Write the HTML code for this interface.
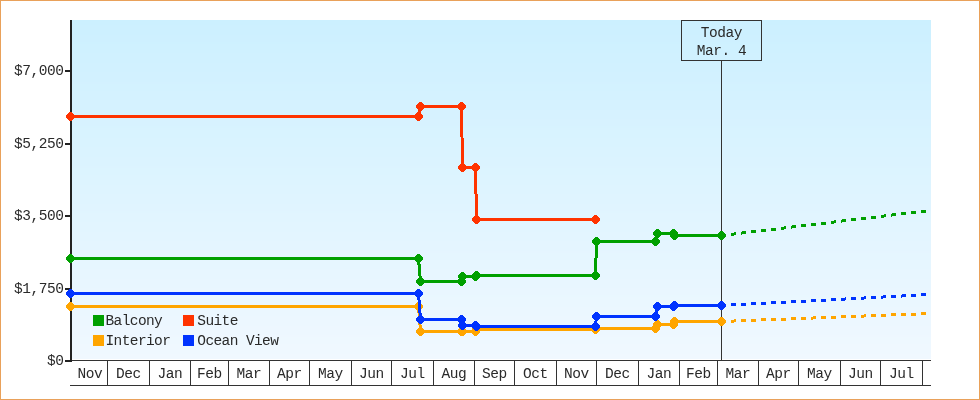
<!DOCTYPE html>
<html><head><meta charset="utf-8"><style>
html,body{margin:0;padding:0;background:#fff;}
body{width:980px;height:400px;overflow:hidden;position:relative;}
#frame{position:absolute;left:0;top:0;width:980px;height:400px;box-sizing:border-box;border:1px solid #e9a15a;}
svg{position:absolute;left:0;top:0;}
text{filter:grayscale(1);}
text{font-family:"Liberation Mono", monospace;font-size:14.5px;fill:#2a2a2a;letter-spacing:-0.45px;}
</style></head><body><div id="frame"></div>
<svg width="980" height="400" viewBox="0 0 980 400">

<g shape-rendering="crispEdges">
<rect x="72" y="20" width="859" height="1" fill="#ccf0ff"/>
<rect x="72" y="21" width="859" height="1" fill="#ccf0ff"/>
<rect x="72" y="22" width="859" height="1" fill="#ccf0ff"/>
<rect x="72" y="23" width="859" height="1" fill="#ccf0ff"/>
<rect x="72" y="24" width="859" height="1" fill="#ccf0ff"/>
<rect x="72" y="25" width="859" height="1" fill="#cdf0ff"/>
<rect x="72" y="26" width="859" height="1" fill="#cdf0ff"/>
<rect x="72" y="27" width="859" height="1" fill="#cdf0ff"/>
<rect x="72" y="28" width="859" height="1" fill="#cdf0ff"/>
<rect x="72" y="29" width="859" height="1" fill="#cdf0ff"/>
<rect x="72" y="30" width="859" height="1" fill="#cdf0ff"/>
<rect x="72" y="31" width="859" height="1" fill="#cdf0ff"/>
<rect x="72" y="32" width="859" height="1" fill="#cdf0ff"/>
<rect x="72" y="33" width="859" height="1" fill="#cdf0ff"/>
<rect x="72" y="34" width="859" height="1" fill="#cdf0ff"/>
<rect x="72" y="35" width="859" height="1" fill="#cef0ff"/>
<rect x="72" y="36" width="859" height="1" fill="#cef0ff"/>
<rect x="72" y="37" width="859" height="1" fill="#cef0ff"/>
<rect x="72" y="38" width="859" height="1" fill="#cef0ff"/>
<rect x="72" y="39" width="859" height="1" fill="#cef0ff"/>
<rect x="72" y="40" width="859" height="1" fill="#cef0ff"/>
<rect x="72" y="41" width="859" height="1" fill="#cef0ff"/>
<rect x="72" y="42" width="859" height="1" fill="#cef1ff"/>
<rect x="72" y="43" width="859" height="1" fill="#cef1ff"/>
<rect x="72" y="44" width="859" height="1" fill="#cff1ff"/>
<rect x="72" y="45" width="859" height="1" fill="#cff1ff"/>
<rect x="72" y="46" width="859" height="1" fill="#cff1ff"/>
<rect x="72" y="47" width="859" height="1" fill="#cff1ff"/>
<rect x="72" y="48" width="859" height="1" fill="#cff1ff"/>
<rect x="72" y="49" width="859" height="1" fill="#cff1ff"/>
<rect x="72" y="50" width="859" height="1" fill="#cff1ff"/>
<rect x="72" y="51" width="859" height="1" fill="#cff1ff"/>
<rect x="72" y="52" width="859" height="1" fill="#cff1ff"/>
<rect x="72" y="53" width="859" height="1" fill="#d0f1ff"/>
<rect x="72" y="54" width="859" height="1" fill="#d0f1ff"/>
<rect x="72" y="55" width="859" height="1" fill="#d0f1ff"/>
<rect x="72" y="56" width="859" height="1" fill="#d0f1ff"/>
<rect x="72" y="57" width="859" height="1" fill="#d0f1ff"/>
<rect x="72" y="58" width="859" height="1" fill="#d0f1ff"/>
<rect x="72" y="59" width="859" height="1" fill="#d0f1ff"/>
<rect x="72" y="60" width="859" height="1" fill="#d0f1ff"/>
<rect x="72" y="61" width="859" height="1" fill="#d0f1ff"/>
<rect x="72" y="62" width="859" height="1" fill="#d0f1ff"/>
<rect x="72" y="63" width="859" height="1" fill="#d1f1ff"/>
<rect x="72" y="64" width="859" height="1" fill="#d1f1ff"/>
<rect x="72" y="65" width="859" height="1" fill="#d1f1ff"/>
<rect x="72" y="66" width="859" height="1" fill="#d1f1ff"/>
<rect x="72" y="67" width="859" height="1" fill="#d1f1ff"/>
<rect x="72" y="68" width="859" height="1" fill="#d1f1ff"/>
<rect x="72" y="69" width="859" height="1" fill="#d1f1ff"/>
<rect x="72" y="70" width="859" height="1" fill="#d1f1ff"/>
<rect x="72" y="71" width="859" height="1" fill="#d1f1ff"/>
<rect x="72" y="72" width="859" height="1" fill="#d2f1ff"/>
<rect x="72" y="73" width="859" height="1" fill="#d2f1ff"/>
<rect x="72" y="74" width="859" height="1" fill="#d2f1ff"/>
<rect x="72" y="75" width="859" height="1" fill="#d2f1ff"/>
<rect x="72" y="76" width="859" height="1" fill="#d2f1ff"/>
<rect x="72" y="77" width="859" height="1" fill="#d2f1ff"/>
<rect x="72" y="78" width="859" height="1" fill="#d2f1ff"/>
<rect x="72" y="79" width="859" height="1" fill="#d2f1ff"/>
<rect x="72" y="80" width="859" height="1" fill="#d2f1ff"/>
<rect x="72" y="81" width="859" height="1" fill="#d2f1ff"/>
<rect x="72" y="82" width="859" height="1" fill="#d3f1ff"/>
<rect x="72" y="83" width="859" height="1" fill="#d3f1ff"/>
<rect x="72" y="84" width="859" height="1" fill="#d3f2ff"/>
<rect x="72" y="85" width="859" height="1" fill="#d3f2ff"/>
<rect x="72" y="86" width="859" height="1" fill="#d3f2ff"/>
<rect x="72" y="87" width="859" height="1" fill="#d3f2ff"/>
<rect x="72" y="88" width="859" height="1" fill="#d3f2ff"/>
<rect x="72" y="89" width="859" height="1" fill="#d3f2ff"/>
<rect x="72" y="90" width="859" height="1" fill="#d3f2ff"/>
<rect x="72" y="91" width="859" height="1" fill="#d4f2ff"/>
<rect x="72" y="92" width="859" height="1" fill="#d4f2ff"/>
<rect x="72" y="93" width="859" height="1" fill="#d4f2ff"/>
<rect x="72" y="94" width="859" height="1" fill="#d4f2ff"/>
<rect x="72" y="95" width="859" height="1" fill="#d4f2ff"/>
<rect x="72" y="96" width="859" height="1" fill="#d4f2ff"/>
<rect x="72" y="97" width="859" height="1" fill="#d4f2ff"/>
<rect x="72" y="98" width="859" height="1" fill="#d4f2ff"/>
<rect x="72" y="99" width="859" height="1" fill="#d4f2ff"/>
<rect x="72" y="100" width="859" height="1" fill="#d5f2ff"/>
<rect x="72" y="101" width="859" height="1" fill="#d5f2ff"/>
<rect x="72" y="102" width="859" height="1" fill="#d5f2ff"/>
<rect x="72" y="103" width="859" height="1" fill="#d5f2ff"/>
<rect x="72" y="104" width="859" height="1" fill="#d5f2ff"/>
<rect x="72" y="105" width="859" height="1" fill="#d5f2ff"/>
<rect x="72" y="106" width="859" height="1" fill="#d5f2ff"/>
<rect x="72" y="107" width="859" height="1" fill="#d5f2ff"/>
<rect x="72" y="108" width="859" height="1" fill="#d5f2ff"/>
<rect x="72" y="109" width="859" height="1" fill="#d5f2ff"/>
<rect x="72" y="110" width="859" height="1" fill="#d6f2ff"/>
<rect x="72" y="111" width="859" height="1" fill="#d6f2ff"/>
<rect x="72" y="112" width="859" height="1" fill="#d6f2ff"/>
<rect x="72" y="113" width="859" height="1" fill="#d6f2ff"/>
<rect x="72" y="114" width="859" height="1" fill="#d6f2ff"/>
<rect x="72" y="115" width="859" height="1" fill="#d6f2ff"/>
<rect x="72" y="116" width="859" height="1" fill="#d6f2ff"/>
<rect x="72" y="117" width="859" height="1" fill="#d6f2ff"/>
<rect x="72" y="118" width="859" height="1" fill="#d6f2ff"/>
<rect x="72" y="119" width="859" height="1" fill="#d7f2ff"/>
<rect x="72" y="120" width="859" height="1" fill="#d7f2ff"/>
<rect x="72" y="121" width="859" height="1" fill="#d7f2ff"/>
<rect x="72" y="122" width="859" height="1" fill="#d7f2ff"/>
<rect x="72" y="123" width="859" height="1" fill="#d7f2ff"/>
<rect x="72" y="124" width="859" height="1" fill="#d7f2ff"/>
<rect x="72" y="125" width="859" height="1" fill="#d7f2ff"/>
<rect x="72" y="126" width="859" height="1" fill="#d7f3ff"/>
<rect x="72" y="127" width="859" height="1" fill="#d7f3ff"/>
<rect x="72" y="128" width="859" height="1" fill="#d8f3ff"/>
<rect x="72" y="129" width="859" height="1" fill="#d8f3ff"/>
<rect x="72" y="130" width="859" height="1" fill="#d8f3ff"/>
<rect x="72" y="131" width="859" height="1" fill="#d8f3ff"/>
<rect x="72" y="132" width="859" height="1" fill="#d8f3ff"/>
<rect x="72" y="133" width="859" height="1" fill="#d8f3ff"/>
<rect x="72" y="134" width="859" height="1" fill="#d8f3ff"/>
<rect x="72" y="135" width="859" height="1" fill="#d8f3ff"/>
<rect x="72" y="136" width="859" height="1" fill="#d8f3ff"/>
<rect x="72" y="137" width="859" height="1" fill="#d8f3ff"/>
<rect x="72" y="138" width="859" height="1" fill="#d9f3ff"/>
<rect x="72" y="139" width="859" height="1" fill="#d9f3ff"/>
<rect x="72" y="140" width="859" height="1" fill="#d9f3ff"/>
<rect x="72" y="141" width="859" height="1" fill="#d9f3ff"/>
<rect x="72" y="142" width="859" height="1" fill="#d9f3ff"/>
<rect x="72" y="143" width="859" height="1" fill="#d9f3ff"/>
<rect x="72" y="144" width="859" height="1" fill="#d9f3ff"/>
<rect x="72" y="145" width="859" height="1" fill="#d9f3ff"/>
<rect x="72" y="146" width="859" height="1" fill="#d9f3ff"/>
<rect x="72" y="147" width="859" height="1" fill="#daf3ff"/>
<rect x="72" y="148" width="859" height="1" fill="#daf3ff"/>
<rect x="72" y="149" width="859" height="1" fill="#daf3ff"/>
<rect x="72" y="150" width="859" height="1" fill="#daf3ff"/>
<rect x="72" y="151" width="859" height="1" fill="#daf3ff"/>
<rect x="72" y="152" width="859" height="1" fill="#daf3ff"/>
<rect x="72" y="153" width="859" height="1" fill="#daf3ff"/>
<rect x="72" y="154" width="859" height="1" fill="#daf3ff"/>
<rect x="72" y="155" width="859" height="1" fill="#daf3ff"/>
<rect x="72" y="156" width="859" height="1" fill="#daf3ff"/>
<rect x="72" y="157" width="859" height="1" fill="#dbf3ff"/>
<rect x="72" y="158" width="859" height="1" fill="#dbf3ff"/>
<rect x="72" y="159" width="859" height="1" fill="#dbf3ff"/>
<rect x="72" y="160" width="859" height="1" fill="#dbf3ff"/>
<rect x="72" y="161" width="859" height="1" fill="#dbf3ff"/>
<rect x="72" y="162" width="859" height="1" fill="#dbf3ff"/>
<rect x="72" y="163" width="859" height="1" fill="#dbf3ff"/>
<rect x="72" y="164" width="859" height="1" fill="#dbf3ff"/>
<rect x="72" y="165" width="859" height="1" fill="#dbf3ff"/>
<rect x="72" y="166" width="859" height="1" fill="#dcf3ff"/>
<rect x="72" y="167" width="859" height="1" fill="#dcf3ff"/>
<rect x="72" y="168" width="859" height="1" fill="#dcf4ff"/>
<rect x="72" y="169" width="859" height="1" fill="#dcf4ff"/>
<rect x="72" y="170" width="859" height="1" fill="#dcf4ff"/>
<rect x="72" y="171" width="859" height="1" fill="#dcf4ff"/>
<rect x="72" y="172" width="859" height="1" fill="#dcf4ff"/>
<rect x="72" y="173" width="859" height="1" fill="#dcf4ff"/>
<rect x="72" y="174" width="859" height="1" fill="#dcf4ff"/>
<rect x="72" y="175" width="859" height="1" fill="#ddf4ff"/>
<rect x="72" y="176" width="859" height="1" fill="#ddf4ff"/>
<rect x="72" y="177" width="859" height="1" fill="#ddf4ff"/>
<rect x="72" y="178" width="859" height="1" fill="#ddf4ff"/>
<rect x="72" y="179" width="859" height="1" fill="#ddf4ff"/>
<rect x="72" y="180" width="859" height="1" fill="#ddf4ff"/>
<rect x="72" y="181" width="859" height="1" fill="#ddf4ff"/>
<rect x="72" y="182" width="859" height="1" fill="#ddf4ff"/>
<rect x="72" y="183" width="859" height="1" fill="#ddf4ff"/>
<rect x="72" y="184" width="859" height="1" fill="#ddf4ff"/>
<rect x="72" y="185" width="859" height="1" fill="#def4ff"/>
<rect x="72" y="186" width="859" height="1" fill="#def4ff"/>
<rect x="72" y="187" width="859" height="1" fill="#def4ff"/>
<rect x="72" y="188" width="859" height="1" fill="#def4ff"/>
<rect x="72" y="189" width="859" height="1" fill="#def4ff"/>
<rect x="72" y="190" width="859" height="1" fill="#def4ff"/>
<rect x="72" y="191" width="859" height="1" fill="#def4ff"/>
<rect x="72" y="192" width="859" height="1" fill="#def4ff"/>
<rect x="72" y="193" width="859" height="1" fill="#def4ff"/>
<rect x="72" y="194" width="859" height="1" fill="#dff4ff"/>
<rect x="72" y="195" width="859" height="1" fill="#dff4ff"/>
<rect x="72" y="196" width="859" height="1" fill="#dff4ff"/>
<rect x="72" y="197" width="859" height="1" fill="#dff4ff"/>
<rect x="72" y="198" width="859" height="1" fill="#dff4ff"/>
<rect x="72" y="199" width="859" height="1" fill="#dff4ff"/>
<rect x="72" y="200" width="859" height="1" fill="#dff4ff"/>
<rect x="72" y="201" width="859" height="1" fill="#dff4ff"/>
<rect x="72" y="202" width="859" height="1" fill="#dff4ff"/>
<rect x="72" y="203" width="859" height="1" fill="#dff4ff"/>
<rect x="72" y="204" width="859" height="1" fill="#e0f4ff"/>
<rect x="72" y="205" width="859" height="1" fill="#e0f4ff"/>
<rect x="72" y="206" width="859" height="1" fill="#e0f4ff"/>
<rect x="72" y="207" width="859" height="1" fill="#e0f4ff"/>
<rect x="72" y="208" width="859" height="1" fill="#e0f4ff"/>
<rect x="72" y="209" width="859" height="1" fill="#e0f4ff"/>
<rect x="72" y="210" width="859" height="1" fill="#e0f4ff"/>
<rect x="72" y="211" width="859" height="1" fill="#e0f5ff"/>
<rect x="72" y="212" width="859" height="1" fill="#e0f5ff"/>
<rect x="72" y="213" width="859" height="1" fill="#e1f5ff"/>
<rect x="72" y="214" width="859" height="1" fill="#e1f5ff"/>
<rect x="72" y="215" width="859" height="1" fill="#e1f5ff"/>
<rect x="72" y="216" width="859" height="1" fill="#e1f5ff"/>
<rect x="72" y="217" width="859" height="1" fill="#e1f5ff"/>
<rect x="72" y="218" width="859" height="1" fill="#e1f5ff"/>
<rect x="72" y="219" width="859" height="1" fill="#e1f5ff"/>
<rect x="72" y="220" width="859" height="1" fill="#e1f5ff"/>
<rect x="72" y="221" width="859" height="1" fill="#e1f5ff"/>
<rect x="72" y="222" width="859" height="1" fill="#e2f5ff"/>
<rect x="72" y="223" width="859" height="1" fill="#e2f5ff"/>
<rect x="72" y="224" width="859" height="1" fill="#e2f5ff"/>
<rect x="72" y="225" width="859" height="1" fill="#e2f5ff"/>
<rect x="72" y="226" width="859" height="1" fill="#e2f5ff"/>
<rect x="72" y="227" width="859" height="1" fill="#e2f5ff"/>
<rect x="72" y="228" width="859" height="1" fill="#e2f5ff"/>
<rect x="72" y="229" width="859" height="1" fill="#e2f5ff"/>
<rect x="72" y="230" width="859" height="1" fill="#e2f5ff"/>
<rect x="72" y="231" width="859" height="1" fill="#e2f5ff"/>
<rect x="72" y="232" width="859" height="1" fill="#e3f5ff"/>
<rect x="72" y="233" width="859" height="1" fill="#e3f5ff"/>
<rect x="72" y="234" width="859" height="1" fill="#e3f5ff"/>
<rect x="72" y="235" width="859" height="1" fill="#e3f5ff"/>
<rect x="72" y="236" width="859" height="1" fill="#e3f5ff"/>
<rect x="72" y="237" width="859" height="1" fill="#e3f5ff"/>
<rect x="72" y="238" width="859" height="1" fill="#e3f5ff"/>
<rect x="72" y="239" width="859" height="1" fill="#e3f5ff"/>
<rect x="72" y="240" width="859" height="1" fill="#e3f5ff"/>
<rect x="72" y="241" width="859" height="1" fill="#e4f5ff"/>
<rect x="72" y="242" width="859" height="1" fill="#e4f5ff"/>
<rect x="72" y="243" width="859" height="1" fill="#e4f5ff"/>
<rect x="72" y="244" width="859" height="1" fill="#e4f5ff"/>
<rect x="72" y="245" width="859" height="1" fill="#e4f5ff"/>
<rect x="72" y="246" width="859" height="1" fill="#e4f5ff"/>
<rect x="72" y="247" width="859" height="1" fill="#e4f5ff"/>
<rect x="72" y="248" width="859" height="1" fill="#e4f5ff"/>
<rect x="72" y="249" width="859" height="1" fill="#e4f5ff"/>
<rect x="72" y="250" width="859" height="1" fill="#e4f5ff"/>
<rect x="72" y="251" width="859" height="1" fill="#e5f5ff"/>
<rect x="72" y="252" width="859" height="1" fill="#e5f5ff"/>
<rect x="72" y="253" width="859" height="1" fill="#e5f6ff"/>
<rect x="72" y="254" width="859" height="1" fill="#e5f6ff"/>
<rect x="72" y="255" width="859" height="1" fill="#e5f6ff"/>
<rect x="72" y="256" width="859" height="1" fill="#e5f6ff"/>
<rect x="72" y="257" width="859" height="1" fill="#e5f6ff"/>
<rect x="72" y="258" width="859" height="1" fill="#e5f6ff"/>
<rect x="72" y="259" width="859" height="1" fill="#e5f6ff"/>
<rect x="72" y="260" width="859" height="1" fill="#e6f6ff"/>
<rect x="72" y="261" width="859" height="1" fill="#e6f6ff"/>
<rect x="72" y="262" width="859" height="1" fill="#e6f6ff"/>
<rect x="72" y="263" width="859" height="1" fill="#e6f6ff"/>
<rect x="72" y="264" width="859" height="1" fill="#e6f6ff"/>
<rect x="72" y="265" width="859" height="1" fill="#e6f6ff"/>
<rect x="72" y="266" width="859" height="1" fill="#e6f6ff"/>
<rect x="72" y="267" width="859" height="1" fill="#e6f6ff"/>
<rect x="72" y="268" width="859" height="1" fill="#e6f6ff"/>
<rect x="72" y="269" width="859" height="1" fill="#e7f6ff"/>
<rect x="72" y="270" width="859" height="1" fill="#e7f6ff"/>
<rect x="72" y="271" width="859" height="1" fill="#e7f6ff"/>
<rect x="72" y="272" width="859" height="1" fill="#e7f6ff"/>
<rect x="72" y="273" width="859" height="1" fill="#e7f6ff"/>
<rect x="72" y="274" width="859" height="1" fill="#e7f6ff"/>
<rect x="72" y="275" width="859" height="1" fill="#e7f6ff"/>
<rect x="72" y="276" width="859" height="1" fill="#e7f6ff"/>
<rect x="72" y="277" width="859" height="1" fill="#e7f6ff"/>
<rect x="72" y="278" width="859" height="1" fill="#e7f6ff"/>
<rect x="72" y="279" width="859" height="1" fill="#e8f6ff"/>
<rect x="72" y="280" width="859" height="1" fill="#e8f6ff"/>
<rect x="72" y="281" width="859" height="1" fill="#e8f6ff"/>
<rect x="72" y="282" width="859" height="1" fill="#e8f6ff"/>
<rect x="72" y="283" width="859" height="1" fill="#e8f6ff"/>
<rect x="72" y="284" width="859" height="1" fill="#e8f6ff"/>
<rect x="72" y="285" width="859" height="1" fill="#e8f6ff"/>
<rect x="72" y="286" width="859" height="1" fill="#e8f6ff"/>
<rect x="72" y="287" width="859" height="1" fill="#e8f6ff"/>
<rect x="72" y="288" width="859" height="1" fill="#e9f6ff"/>
<rect x="72" y="289" width="859" height="1" fill="#e9f6ff"/>
<rect x="72" y="290" width="859" height="1" fill="#e9f6ff"/>
<rect x="72" y="291" width="859" height="1" fill="#e9f6ff"/>
<rect x="72" y="292" width="859" height="1" fill="#e9f6ff"/>
<rect x="72" y="293" width="859" height="1" fill="#e9f6ff"/>
<rect x="72" y="294" width="859" height="1" fill="#e9f6ff"/>
<rect x="72" y="295" width="859" height="1" fill="#e9f7ff"/>
<rect x="72" y="296" width="859" height="1" fill="#e9f7ff"/>
<rect x="72" y="297" width="859" height="1" fill="#eaf7ff"/>
<rect x="72" y="298" width="859" height="1" fill="#eaf7ff"/>
<rect x="72" y="299" width="859" height="1" fill="#eaf7ff"/>
<rect x="72" y="300" width="859" height="1" fill="#eaf7ff"/>
<rect x="72" y="301" width="859" height="1" fill="#eaf7ff"/>
<rect x="72" y="302" width="859" height="1" fill="#eaf7ff"/>
<rect x="72" y="303" width="859" height="1" fill="#eaf7ff"/>
<rect x="72" y="304" width="859" height="1" fill="#eaf7ff"/>
<rect x="72" y="305" width="859" height="1" fill="#eaf7ff"/>
<rect x="72" y="306" width="859" height="1" fill="#eaf7ff"/>
<rect x="72" y="307" width="859" height="1" fill="#ebf7ff"/>
<rect x="72" y="308" width="859" height="1" fill="#ebf7ff"/>
<rect x="72" y="309" width="859" height="1" fill="#ebf7ff"/>
<rect x="72" y="310" width="859" height="1" fill="#ebf7ff"/>
<rect x="72" y="311" width="859" height="1" fill="#ebf7ff"/>
<rect x="72" y="312" width="859" height="1" fill="#ebf7ff"/>
<rect x="72" y="313" width="859" height="1" fill="#ebf7ff"/>
<rect x="72" y="314" width="859" height="1" fill="#ebf7ff"/>
<rect x="72" y="315" width="859" height="1" fill="#ebf7ff"/>
<rect x="72" y="316" width="859" height="1" fill="#ecf7ff"/>
<rect x="72" y="317" width="859" height="1" fill="#ecf7ff"/>
<rect x="72" y="318" width="859" height="1" fill="#ecf7ff"/>
<rect x="72" y="319" width="859" height="1" fill="#ecf7ff"/>
<rect x="72" y="320" width="859" height="1" fill="#ecf7ff"/>
<rect x="72" y="321" width="859" height="1" fill="#ecf7ff"/>
<rect x="72" y="322" width="859" height="1" fill="#ecf7ff"/>
<rect x="72" y="323" width="859" height="1" fill="#ecf7ff"/>
<rect x="72" y="324" width="859" height="1" fill="#ecf7ff"/>
<rect x="72" y="325" width="859" height="1" fill="#ecf7ff"/>
<rect x="72" y="326" width="859" height="1" fill="#edf7ff"/>
<rect x="72" y="327" width="859" height="1" fill="#edf7ff"/>
<rect x="72" y="328" width="859" height="1" fill="#edf7ff"/>
<rect x="72" y="329" width="859" height="1" fill="#edf7ff"/>
<rect x="72" y="330" width="859" height="1" fill="#edf7ff"/>
<rect x="72" y="331" width="859" height="1" fill="#edf7ff"/>
<rect x="72" y="332" width="859" height="1" fill="#edf7ff"/>
<rect x="72" y="333" width="859" height="1" fill="#edf7ff"/>
<rect x="72" y="334" width="859" height="1" fill="#edf7ff"/>
<rect x="72" y="335" width="859" height="1" fill="#eef7ff"/>
<rect x="72" y="336" width="859" height="1" fill="#eef7ff"/>
<rect x="72" y="337" width="859" height="1" fill="#eef8ff"/>
<rect x="72" y="338" width="859" height="1" fill="#eef8ff"/>
<rect x="72" y="339" width="859" height="1" fill="#eef8ff"/>
<rect x="72" y="340" width="859" height="1" fill="#eef8ff"/>
<rect x="72" y="341" width="859" height="1" fill="#eef8ff"/>
<rect x="72" y="342" width="859" height="1" fill="#eef8ff"/>
<rect x="72" y="343" width="859" height="1" fill="#eef8ff"/>
<rect x="72" y="344" width="859" height="1" fill="#eff8ff"/>
<rect x="72" y="345" width="859" height="1" fill="#eff8ff"/>
<rect x="72" y="346" width="859" height="1" fill="#eff8ff"/>
<rect x="72" y="347" width="859" height="1" fill="#eff8ff"/>
<rect x="72" y="348" width="859" height="1" fill="#eff8ff"/>
<rect x="72" y="349" width="859" height="1" fill="#eff8ff"/>
<rect x="72" y="350" width="859" height="1" fill="#eff8ff"/>
<rect x="72" y="351" width="859" height="1" fill="#eff8ff"/>
<rect x="72" y="352" width="859" height="1" fill="#eff8ff"/>
<rect x="72" y="353" width="859" height="1" fill="#eff8ff"/>
<rect x="72" y="354" width="859" height="1" fill="#f0f8ff"/>
<rect x="72" y="355" width="859" height="1" fill="#f0f8ff"/>
<rect x="72" y="356" width="859" height="1" fill="#f0f8ff"/>
<rect x="72" y="357" width="859" height="1" fill="#f0f8ff"/>
<rect x="72" y="358" width="859" height="1" fill="#f0f8ff"/>
</g>
<g shape-rendering="crispEdges" fill="#333">
<rect x="70" y="360" width="861" height="1"/>
<rect x="70" y="385" width="861" height="1"/>
<rect x="107" y="360" width="1" height="26"/>
<rect x="149" y="360" width="1" height="26"/>
<rect x="190" y="360" width="1" height="26"/>
<rect x="228" y="360" width="1" height="26"/>
<rect x="269" y="360" width="1" height="26"/>
<rect x="309" y="360" width="1" height="26"/>
<rect x="351" y="360" width="1" height="26"/>
<rect x="391" y="360" width="1" height="26"/>
<rect x="433" y="360" width="1" height="26"/>
<rect x="474" y="360" width="1" height="26"/>
<rect x="514" y="360" width="1" height="26"/>
<rect x="556" y="360" width="1" height="26"/>
<rect x="596" y="360" width="1" height="26"/>
<rect x="638" y="360" width="1" height="26"/>
<rect x="679" y="360" width="1" height="26"/>
<rect x="717" y="360" width="1" height="26"/>
<rect x="758" y="360" width="1" height="26"/>
<rect x="798" y="360" width="1" height="26"/>
<rect x="840" y="360" width="1" height="26"/>
<rect x="880" y="360" width="1" height="26"/>
<rect x="922" y="360" width="1" height="26"/>
</g>
<text x="90.0" y="378" text-anchor="middle">Nov</text>
<text x="128.5" y="378" text-anchor="middle">Dec</text>
<text x="170.0" y="378" text-anchor="middle">Jan</text>
<text x="209.5" y="378" text-anchor="middle">Feb</text>
<text x="249.0" y="378" text-anchor="middle">Mar</text>
<text x="289.5" y="378" text-anchor="middle">Apr</text>
<text x="330.5" y="378" text-anchor="middle">May</text>
<text x="371.5" y="378" text-anchor="middle">Jun</text>
<text x="412.5" y="378" text-anchor="middle">Jul</text>
<text x="454.0" y="378" text-anchor="middle">Aug</text>
<text x="494.5" y="378" text-anchor="middle">Sep</text>
<text x="535.5" y="378" text-anchor="middle">Oct</text>
<text x="576.5" y="378" text-anchor="middle">Nov</text>
<text x="617.5" y="378" text-anchor="middle">Dec</text>
<text x="659.0" y="378" text-anchor="middle">Jan</text>
<text x="698.5" y="378" text-anchor="middle">Feb</text>
<text x="738.0" y="378" text-anchor="middle">Mar</text>
<text x="778.5" y="378" text-anchor="middle">Apr</text>
<text x="819.5" y="378" text-anchor="middle">May</text>
<text x="860.5" y="378" text-anchor="middle">Jun</text>
<text x="901.5" y="378" text-anchor="middle">Jul</text>
<g shape-rendering="crispEdges" fill="#222">
<rect x="70" y="20" width="2" height="342"/>
<rect x="65" y="360" width="6" height="2"/>
<rect x="65" y="288" width="6" height="2"/>
<rect x="65" y="215" width="6" height="2"/>
<rect x="65" y="143" width="6" height="2"/>
<rect x="65" y="70" width="6" height="2"/>
</g>
<text x="63.5" y="365.0" text-anchor="end">$0</text>
<text x="63.5" y="293.0" text-anchor="end">$1,750</text>
<text x="63.5" y="220.0" text-anchor="end">$3,500</text>
<text x="63.5" y="148.0" text-anchor="end">$5,250</text>
<text x="63.5" y="75.0" text-anchor="end">$7,000</text>
<g shape-rendering="crispEdges" fill="none" stroke="#333" stroke-width="1">
<rect x="681.5" y="20.5" width="80" height="40"/>
<line x1="721.5" y1="61" x2="721.5" y2="360"/>
</g>
<text x="721.5" y="37" text-anchor="middle">Today</text>
<text x="721.5" y="55" text-anchor="middle">Mar. 4</text>
<g fill="#00a000" stroke="none" shape-rendering="crispEdges">
<polyline points="70.5,258.5 418.5,258.5 420.5,281.5 461.5,281.5 462.5,276.5 475.5,276.5 476.5,275.5 595.5,275.5 596.5,241.5 655.5,241.5 657.5,233.5 673.5,233.5 674.5,235.5 721.5,235.5" fill="none" stroke="#00a000" stroke-width="3" stroke-linejoin="miter"/>
<rect x="731" y="233" width="3" height="3"/>
<rect x="734" y="232" width="2" height="3"/>
<rect x="741" y="232" width="1" height="3"/>
<rect x="742" y="231" width="4" height="3"/>
<rect x="751" y="230" width="5" height="3"/>
<rect x="761" y="229" width="5" height="3"/>
<rect x="771" y="228" width="5" height="3"/>
<rect x="781" y="227" width="3" height="3"/>
<rect x="784" y="226" width="2" height="3"/>
<rect x="791" y="226" width="1" height="3"/>
<rect x="792" y="225" width="4" height="3"/>
<rect x="801" y="224" width="5" height="3"/>
<rect x="811" y="223" width="5" height="3"/>
<rect x="821" y="222" width="5" height="3"/>
<rect x="831" y="221" width="3" height="3"/>
<rect x="834" y="220" width="2" height="3"/>
<rect x="841" y="220" width="1" height="3"/>
<rect x="842" y="219" width="4" height="3"/>
<rect x="851" y="218" width="5" height="3"/>
<rect x="861" y="217" width="5" height="3"/>
<rect x="871" y="216" width="5" height="3"/>
<rect x="881" y="215" width="3" height="3"/>
<rect x="884" y="214" width="2" height="3"/>
<rect x="891" y="214" width="1" height="3"/>
<rect x="892" y="213" width="4" height="3"/>
<rect x="901" y="212" width="5" height="3"/>
<rect x="911" y="211" width="5" height="3"/>
<rect x="921" y="210" width="5" height="3"/>
<path d="M69 254 72 254 72 255 73 255 73 256 74 256 74 257 75 257 75 260 74 260 74 261 73 261 73 262 72 262 72 263 69 263 69 262 68 262 68 261 67 261 67 260 66 260 66 257 67 257 67 256 68 256 68 255 69 255ZM417 254 420 254 420 255 421 255 421 256 422 256 422 257 423 257 423 260 422 260 422 261 421 261 421 262 420 262 420 263 417 263 417 262 416 262 416 261 415 261 415 260 414 260 414 257 415 257 415 256 416 256 416 255 417 255ZM419 277 422 277 422 278 423 278 423 279 424 279 424 280 425 280 425 283 424 283 424 284 423 284 423 285 422 285 422 286 419 286 419 285 418 285 418 284 417 284 417 283 416 283 416 280 417 280 417 279 418 279 418 278 419 278ZM460 277 463 277 463 278 464 278 464 279 465 279 465 280 466 280 466 283 465 283 465 284 464 284 464 285 463 285 463 286 460 286 460 285 459 285 459 284 458 284 458 283 457 283 457 280 458 280 458 279 459 279 459 278 460 278ZM461 272 464 272 464 273 465 273 465 274 466 274 466 275 467 275 467 278 466 278 466 279 465 279 465 280 464 280 464 281 461 281 461 280 460 280 460 279 459 279 459 278 458 278 458 275 459 275 459 274 460 274 460 273 461 273ZM474 272 477 272 477 273 478 273 478 274 479 274 479 275 480 275 480 278 479 278 479 279 478 279 478 280 477 280 477 281 474 281 474 280 473 280 473 279 472 279 472 278 471 278 471 275 472 275 472 274 473 274 473 273 474 273ZM475 271 478 271 478 272 479 272 479 273 480 273 480 274 481 274 481 277 480 277 480 278 479 278 479 279 478 279 478 280 475 280 475 279 474 279 474 278 473 278 473 277 472 277 472 274 473 274 473 273 474 273 474 272 475 272ZM594 271 597 271 597 272 598 272 598 273 599 273 599 274 600 274 600 277 599 277 599 278 598 278 598 279 597 279 597 280 594 280 594 279 593 279 593 278 592 278 592 277 591 277 591 274 592 274 592 273 593 273 593 272 594 272ZM595 237 598 237 598 238 599 238 599 239 600 239 600 240 601 240 601 243 600 243 600 244 599 244 599 245 598 245 598 246 595 246 595 245 594 245 594 244 593 244 593 243 592 243 592 240 593 240 593 239 594 239 594 238 595 238ZM654 237 657 237 657 238 658 238 658 239 659 239 659 240 660 240 660 243 659 243 659 244 658 244 658 245 657 245 657 246 654 246 654 245 653 245 653 244 652 244 652 243 651 243 651 240 652 240 652 239 653 239 653 238 654 238ZM656 229 659 229 659 230 660 230 660 231 661 231 661 232 662 232 662 235 661 235 661 236 660 236 660 237 659 237 659 238 656 238 656 237 655 237 655 236 654 236 654 235 653 235 653 232 654 232 654 231 655 231 655 230 656 230ZM672 229 675 229 675 230 676 230 676 231 677 231 677 232 678 232 678 235 677 235 677 236 676 236 676 237 675 237 675 238 672 238 672 237 671 237 671 236 670 236 670 235 669 235 669 232 670 232 670 231 671 231 671 230 672 230ZM673 231 676 231 676 232 677 232 677 233 678 233 678 234 679 234 679 237 678 237 678 238 677 238 677 239 676 239 676 240 673 240 673 239 672 239 672 238 671 238 671 237 670 237 670 234 671 234 671 233 672 233 672 232 673 232ZM720 231 723 231 723 232 724 232 724 233 725 233 725 234 726 234 726 237 725 237 725 238 724 238 724 239 723 239 723 240 720 240 720 239 719 239 719 238 718 238 718 237 717 237 717 234 718 234 718 233 719 233 719 232 720 232Z"/>
</g>
<g fill="#ff3300" stroke="none" shape-rendering="crispEdges">
<polyline points="70.5,116.5 418.5,116.5 420.5,106.5 461.5,106.5 462.5,167.5 475.5,167.5 476.5,219.5 595.5,219.5" fill="none" stroke="#ff3300" stroke-width="3" stroke-linejoin="miter"/>
<path d="M69 112 72 112 72 113 73 113 73 114 74 114 74 115 75 115 75 118 74 118 74 119 73 119 73 120 72 120 72 121 69 121 69 120 68 120 68 119 67 119 67 118 66 118 66 115 67 115 67 114 68 114 68 113 69 113ZM417 112 420 112 420 113 421 113 421 114 422 114 422 115 423 115 423 118 422 118 422 119 421 119 421 120 420 120 420 121 417 121 417 120 416 120 416 119 415 119 415 118 414 118 414 115 415 115 415 114 416 114 416 113 417 113ZM419 102 422 102 422 103 423 103 423 104 424 104 424 105 425 105 425 108 424 108 424 109 423 109 423 110 422 110 422 111 419 111 419 110 418 110 418 109 417 109 417 108 416 108 416 105 417 105 417 104 418 104 418 103 419 103ZM460 102 463 102 463 103 464 103 464 104 465 104 465 105 466 105 466 108 465 108 465 109 464 109 464 110 463 110 463 111 460 111 460 110 459 110 459 109 458 109 458 108 457 108 457 105 458 105 458 104 459 104 459 103 460 103ZM461 163 464 163 464 164 465 164 465 165 466 165 466 166 467 166 467 169 466 169 466 170 465 170 465 171 464 171 464 172 461 172 461 171 460 171 460 170 459 170 459 169 458 169 458 166 459 166 459 165 460 165 460 164 461 164ZM474 163 477 163 477 164 478 164 478 165 479 165 479 166 480 166 480 169 479 169 479 170 478 170 478 171 477 171 477 172 474 172 474 171 473 171 473 170 472 170 472 169 471 169 471 166 472 166 472 165 473 165 473 164 474 164ZM475 215 478 215 478 216 479 216 479 217 480 217 480 218 481 218 481 221 480 221 480 222 479 222 479 223 478 223 478 224 475 224 475 223 474 223 474 222 473 222 473 221 472 221 472 218 473 218 473 217 474 217 474 216 475 216ZM594 215 597 215 597 216 598 216 598 217 599 217 599 218 600 218 600 221 599 221 599 222 598 222 598 223 597 223 597 224 594 224 594 223 593 223 593 222 592 222 592 221 591 221 591 218 592 218 592 217 593 217 593 216 594 216Z"/>
</g>
<g fill="#ffa500" stroke="none" shape-rendering="crispEdges">
<polyline points="70.5,306.5 418.5,306.5 420.5,331.5 461.5,331.5 462.5,331.5 475.5,331.5 476.5,329.5 595.5,329.5 596.5,328.5 655.5,328.5 657.5,324.5 673.5,324.5 674.5,321.5 721.5,321.5" fill="none" stroke="#ffa500" stroke-width="3" stroke-linejoin="miter"/>
<rect x="731" y="320" width="3" height="3"/>
<rect x="734" y="319" width="2" height="3"/>
<rect x="741" y="319" width="5" height="3"/>
<rect x="751" y="319" width="5" height="3"/>
<rect x="761" y="318" width="5" height="3"/>
<rect x="771" y="318" width="5" height="3"/>
<rect x="781" y="318" width="5" height="3"/>
<rect x="791" y="317" width="5" height="3"/>
<rect x="801" y="317" width="5" height="3"/>
<rect x="811" y="317" width="2" height="3"/>
<rect x="813" y="316" width="3" height="3"/>
<rect x="821" y="316" width="5" height="3"/>
<rect x="831" y="316" width="5" height="3"/>
<rect x="841" y="315" width="5" height="3"/>
<rect x="851" y="315" width="5" height="3"/>
<rect x="861" y="315" width="3" height="3"/>
<rect x="864" y="314" width="2" height="3"/>
<rect x="871" y="314" width="5" height="3"/>
<rect x="881" y="314" width="5" height="3"/>
<rect x="891" y="313" width="5" height="3"/>
<rect x="901" y="313" width="5" height="3"/>
<rect x="911" y="313" width="5" height="3"/>
<rect x="921" y="312" width="5" height="3"/>
<path d="M69 302 72 302 72 303 73 303 73 304 74 304 74 305 75 305 75 308 74 308 74 309 73 309 73 310 72 310 72 311 69 311 69 310 68 310 68 309 67 309 67 308 66 308 66 305 67 305 67 304 68 304 68 303 69 303ZM417 302 420 302 420 303 421 303 421 304 422 304 422 305 423 305 423 308 422 308 422 309 421 309 421 310 420 310 420 311 417 311 417 310 416 310 416 309 415 309 415 308 414 308 414 305 415 305 415 304 416 304 416 303 417 303ZM419 327 422 327 422 328 423 328 423 329 424 329 424 330 425 330 425 333 424 333 424 334 423 334 423 335 422 335 422 336 419 336 419 335 418 335 418 334 417 334 417 333 416 333 416 330 417 330 417 329 418 329 418 328 419 328ZM460 327 463 327 463 328 464 328 464 329 465 329 465 330 466 330 466 333 465 333 465 334 464 334 464 335 463 335 463 336 460 336 460 335 459 335 459 334 458 334 458 333 457 333 457 330 458 330 458 329 459 329 459 328 460 328ZM461 327 464 327 464 328 465 328 465 329 466 329 466 330 467 330 467 333 466 333 466 334 465 334 465 335 464 335 464 336 461 336 461 335 460 335 460 334 459 334 459 333 458 333 458 330 459 330 459 329 460 329 460 328 461 328ZM474 327 477 327 477 328 478 328 478 329 479 329 479 330 480 330 480 333 479 333 479 334 478 334 478 335 477 335 477 336 474 336 474 335 473 335 473 334 472 334 472 333 471 333 471 330 472 330 472 329 473 329 473 328 474 328ZM475 325 478 325 478 326 479 326 479 327 480 327 480 328 481 328 481 331 480 331 480 332 479 332 479 333 478 333 478 334 475 334 475 333 474 333 474 332 473 332 473 331 472 331 472 328 473 328 473 327 474 327 474 326 475 326ZM594 325 597 325 597 326 598 326 598 327 599 327 599 328 600 328 600 331 599 331 599 332 598 332 598 333 597 333 597 334 594 334 594 333 593 333 593 332 592 332 592 331 591 331 591 328 592 328 592 327 593 327 593 326 594 326ZM595 324 598 324 598 325 599 325 599 326 600 326 600 327 601 327 601 330 600 330 600 331 599 331 599 332 598 332 598 333 595 333 595 332 594 332 594 331 593 331 593 330 592 330 592 327 593 327 593 326 594 326 594 325 595 325ZM654 324 657 324 657 325 658 325 658 326 659 326 659 327 660 327 660 330 659 330 659 331 658 331 658 332 657 332 657 333 654 333 654 332 653 332 653 331 652 331 652 330 651 330 651 327 652 327 652 326 653 326 653 325 654 325ZM656 320 659 320 659 321 660 321 660 322 661 322 661 323 662 323 662 326 661 326 661 327 660 327 660 328 659 328 659 329 656 329 656 328 655 328 655 327 654 327 654 326 653 326 653 323 654 323 654 322 655 322 655 321 656 321ZM672 320 675 320 675 321 676 321 676 322 677 322 677 323 678 323 678 326 677 326 677 327 676 327 676 328 675 328 675 329 672 329 672 328 671 328 671 327 670 327 670 326 669 326 669 323 670 323 670 322 671 322 671 321 672 321ZM673 317 676 317 676 318 677 318 677 319 678 319 678 320 679 320 679 323 678 323 678 324 677 324 677 325 676 325 676 326 673 326 673 325 672 325 672 324 671 324 671 323 670 323 670 320 671 320 671 319 672 319 672 318 673 318ZM720 317 723 317 723 318 724 318 724 319 725 319 725 320 726 320 726 323 725 323 725 324 724 324 724 325 723 325 723 326 720 326 720 325 719 325 719 324 718 324 718 323 717 323 717 320 718 320 718 319 719 319 719 318 720 318Z"/>
</g>
<g fill="#0033ff" stroke="none" shape-rendering="crispEdges">
<polyline points="70.5,293.5 418.5,293.5 420.5,319.5 461.5,319.5 462.5,325.5 475.5,325.5 476.5,326.5 595.5,326.5 596.5,316.5 655.5,316.5 657.5,306.5 673.5,306.5 674.5,305.5 721.5,305.5" fill="none" stroke="#0033ff" stroke-width="3" stroke-linejoin="miter"/>
<rect x="731" y="303" width="5" height="3"/>
<rect x="741" y="303" width="5" height="3"/>
<rect x="751" y="302" width="5" height="3"/>
<rect x="761" y="302" width="5" height="3"/>
<rect x="771" y="301" width="5" height="3"/>
<rect x="781" y="301" width="5" height="3"/>
<rect x="791" y="300" width="5" height="3"/>
<rect x="801" y="300" width="5" height="3"/>
<rect x="811" y="299" width="5" height="3"/>
<rect x="821" y="299" width="5" height="3"/>
<rect x="831" y="298" width="5" height="3"/>
<rect x="841" y="298" width="4" height="3"/>
<rect x="845" y="297" width="1" height="3"/>
<rect x="851" y="297" width="5" height="3"/>
<rect x="861" y="297" width="3" height="3"/>
<rect x="864" y="296" width="2" height="3"/>
<rect x="871" y="296" width="5" height="3"/>
<rect x="881" y="296" width="2" height="3"/>
<rect x="883" y="295" width="3" height="3"/>
<rect x="891" y="295" width="5" height="3"/>
<rect x="901" y="295" width="1" height="3"/>
<rect x="902" y="294" width="4" height="3"/>
<rect x="911" y="294" width="5" height="3"/>
<rect x="921" y="293" width="5" height="3"/>
<path d="M69 289 72 289 72 290 73 290 73 291 74 291 74 292 75 292 75 295 74 295 74 296 73 296 73 297 72 297 72 298 69 298 69 297 68 297 68 296 67 296 67 295 66 295 66 292 67 292 67 291 68 291 68 290 69 290ZM417 289 420 289 420 290 421 290 421 291 422 291 422 292 423 292 423 295 422 295 422 296 421 296 421 297 420 297 420 298 417 298 417 297 416 297 416 296 415 296 415 295 414 295 414 292 415 292 415 291 416 291 416 290 417 290ZM419 315 422 315 422 316 423 316 423 317 424 317 424 318 425 318 425 321 424 321 424 322 423 322 423 323 422 323 422 324 419 324 419 323 418 323 418 322 417 322 417 321 416 321 416 318 417 318 417 317 418 317 418 316 419 316ZM460 315 463 315 463 316 464 316 464 317 465 317 465 318 466 318 466 321 465 321 465 322 464 322 464 323 463 323 463 324 460 324 460 323 459 323 459 322 458 322 458 321 457 321 457 318 458 318 458 317 459 317 459 316 460 316ZM461 321 464 321 464 322 465 322 465 323 466 323 466 324 467 324 467 327 466 327 466 328 465 328 465 329 464 329 464 330 461 330 461 329 460 329 460 328 459 328 459 327 458 327 458 324 459 324 459 323 460 323 460 322 461 322ZM474 321 477 321 477 322 478 322 478 323 479 323 479 324 480 324 480 327 479 327 479 328 478 328 478 329 477 329 477 330 474 330 474 329 473 329 473 328 472 328 472 327 471 327 471 324 472 324 472 323 473 323 473 322 474 322ZM475 322 478 322 478 323 479 323 479 324 480 324 480 325 481 325 481 328 480 328 480 329 479 329 479 330 478 330 478 331 475 331 475 330 474 330 474 329 473 329 473 328 472 328 472 325 473 325 473 324 474 324 474 323 475 323ZM594 322 597 322 597 323 598 323 598 324 599 324 599 325 600 325 600 328 599 328 599 329 598 329 598 330 597 330 597 331 594 331 594 330 593 330 593 329 592 329 592 328 591 328 591 325 592 325 592 324 593 324 593 323 594 323ZM595 312 598 312 598 313 599 313 599 314 600 314 600 315 601 315 601 318 600 318 600 319 599 319 599 320 598 320 598 321 595 321 595 320 594 320 594 319 593 319 593 318 592 318 592 315 593 315 593 314 594 314 594 313 595 313ZM654 312 657 312 657 313 658 313 658 314 659 314 659 315 660 315 660 318 659 318 659 319 658 319 658 320 657 320 657 321 654 321 654 320 653 320 653 319 652 319 652 318 651 318 651 315 652 315 652 314 653 314 653 313 654 313ZM656 302 659 302 659 303 660 303 660 304 661 304 661 305 662 305 662 308 661 308 661 309 660 309 660 310 659 310 659 311 656 311 656 310 655 310 655 309 654 309 654 308 653 308 653 305 654 305 654 304 655 304 655 303 656 303ZM672 302 675 302 675 303 676 303 676 304 677 304 677 305 678 305 678 308 677 308 677 309 676 309 676 310 675 310 675 311 672 311 672 310 671 310 671 309 670 309 670 308 669 308 669 305 670 305 670 304 671 304 671 303 672 303ZM673 301 676 301 676 302 677 302 677 303 678 303 678 304 679 304 679 307 678 307 678 308 677 308 677 309 676 309 676 310 673 310 673 309 672 309 672 308 671 308 671 307 670 307 670 304 671 304 671 303 672 303 672 302 673 302ZM720 301 723 301 723 302 724 302 724 303 725 303 725 304 726 304 726 307 725 307 725 308 724 308 724 309 723 309 723 310 720 310 720 309 719 309 719 308 718 308 718 307 717 307 717 304 718 304 718 303 719 303 719 302 720 302Z"/>
</g>
<rect x="93" y="315" width="11" height="11" fill="#00a000"/>
<text x="105.5" y="325" style="letter-spacing:-0.6px">Balcony</text>
<rect x="183" y="315" width="11" height="11" fill="#ff3300"/>
<text x="197.3" y="325" style="letter-spacing:-0.6px">Suite</text>
<rect x="93" y="335" width="11" height="11" fill="#ffa500"/>
<text x="105.5" y="345" style="letter-spacing:-0.6px">Interior</text>
<rect x="183" y="335" width="11" height="11" fill="#0033ff"/>
<text x="197.3" y="345" style="letter-spacing:-0.6px">Ocean View</text>
</svg></body></html>
